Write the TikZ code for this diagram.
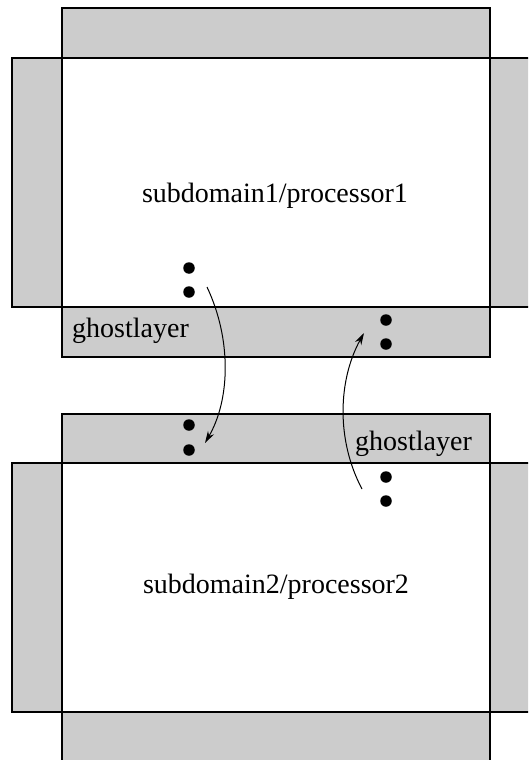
\documentclass[tikz,border=0pt]{standalone}
\usepackage{fontspec}
\setmainfont{Liberation Serif}
\usetikzlibrary{arrows.meta}
\definecolor{ghostfill}{RGB}{204,204,204}
\begin{document}
\begin{tikzpicture}[x=1pt,y=-1pt,
  ghost/.style={draw=black,fill=ghostfill,line width=1.1pt},
  subdom/.style={draw=black,fill=white,line width=1.1pt},
  dot/.style={circle,fill=black,inner sep=0pt,minimum size=11.5pt},
  lbl/.style={font=\fontsize{28}{32}\selectfont,inner sep=0pt},
  xfer/.style={line width=1pt,-{Stealth[length=12pt,width=7pt]}}]
\clip (0,0) rectangle (528,760);
\fill[white] (0,0) rectangle (528,760);

% upper subdomain with its ghost layers
\draw[ghost] (62,8) rectangle (490,58);
\draw[ghost] (12,58) rectangle (62,307);
\draw[ghost] (490,58) rectangle (545,307);
\draw[ghost] (62,307) rectangle (490,357);
\draw[subdom] (62,58) rectangle (490,307);

% lower subdomain with its ghost layers
\draw[ghost] (62,414) rectangle (490,463);
\draw[ghost] (12,463) rectangle (62,712);
\draw[ghost] (490,463) rectangle (545,712);
\draw[ghost] (62,712) rectangle (490,775);
\draw[subdom] (62,463) rectangle (490,712);

% labels
\node[lbl,anchor=base] (sd1) at (275,202) {subdomain1/processor1};
\node[lbl,anchor=base] (sd2) at (276,593) {subdomain2/processor2};
\node[lbl,anchor=base west] (gl1) at (72,337) {ghostlayer};
\node[lbl,anchor=base west] (gl2) at (355,450) {ghostlayer};

% data points
\node[dot] (a1) at (189,268) {};
\node[dot] (a2) at (189,292) {};
\node[dot] (b1) at (386,320) {};
\node[dot] (b2) at (386,344) {};
\node[dot] (c1) at (189,425) {};
\node[dot] (c2) at (189,450) {};
\node[dot] (d1) at (386,477) {};
\node[dot] (d2) at (386,501) {};

% exchange arrows
\coordinate (s1) at (207,287);
\coordinate (t1) at (205,443);
\coordinate (s2) at (362,489);
\coordinate (t2) at (364,333);
\draw[xfer] (s1) .. controls (232,340) and (230,400) .. (t1);
\draw[xfer] (s2) .. controls (336,440) and (338,380) .. (t2);
\end{tikzpicture}
\end{document}
